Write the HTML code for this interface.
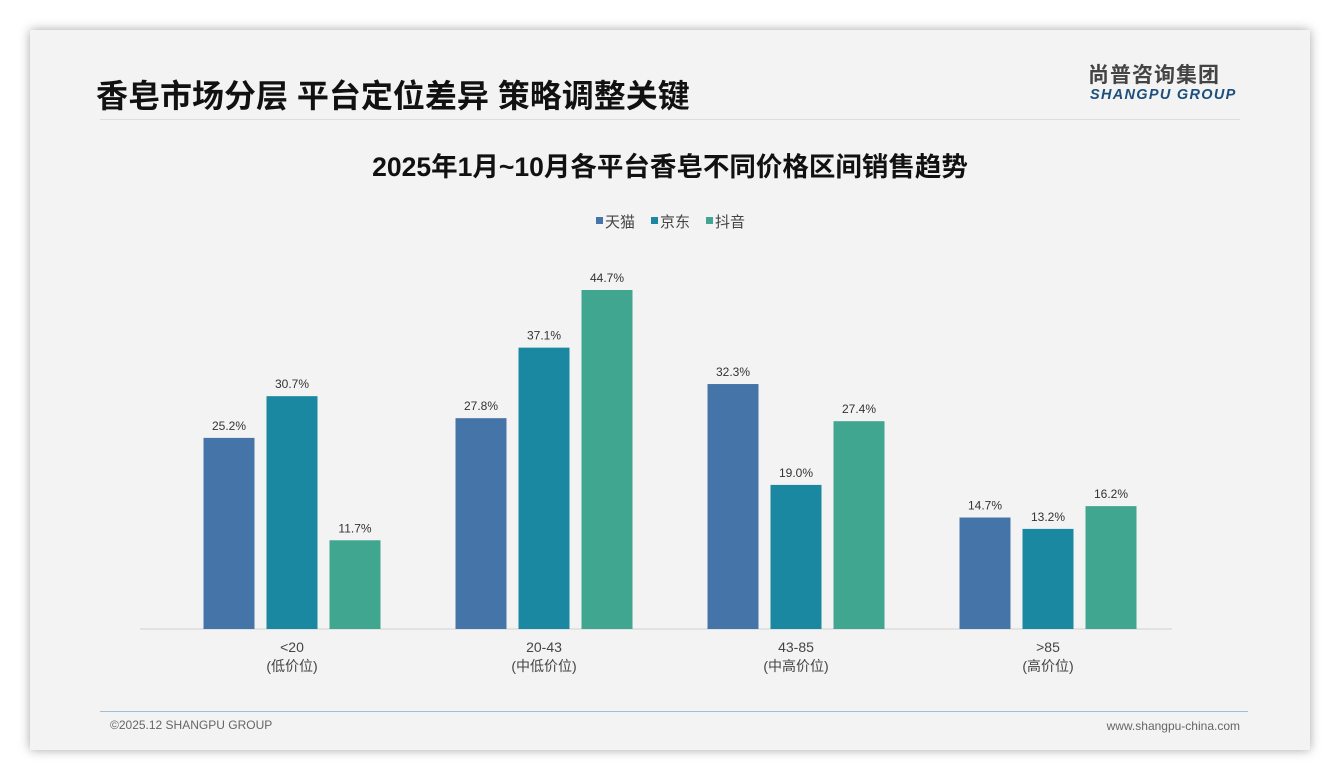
<!DOCTYPE html>
<html><head><meta charset="utf-8"><style>
body{margin:0;width:1340px;height:780px;background:#fff;position:relative;overflow:hidden;font-family:"Liberation Sans","Noto Sans CJK SC",sans-serif}
#card{position:absolute;left:30px;top:30px;width:1280px;height:720px;background:#f3f3f3;box-shadow:0 0 10px rgba(0,0,0,.35)}
.t{position:absolute;white-space:nowrap;line-height:1}
</style></head><body>
<div id="card">
<div class="t" style="left:66px;top:50px;font-size:32px;font-weight:bold;color:#111">香皂市场分层 平台定位差异 策略调整关键</div>
<div style="position:absolute;left:70px;top:89px;width:1140px;height:1px;background:#ddd"></div>
<div class="t" style="left:1058px;top:35px;font-size:21px;font-weight:bold;color:#444;letter-spacing:1px">尚普咨询集团</div>
<div class="t" style="left:1060px;top:58px;font-size:14.5px;font-weight:bold;font-style:italic;color:#1d4f7c;letter-spacing:1.3px">SHANGPU GROUP</div>
<div style="position:absolute;left:70px;top:681px;width:1148px;height:1px;background:#9fc0dc"></div>
<div class="t" style="left:80px;top:689px;font-size:12px;color:#666">©2025.12 SHANGPU GROUP</div>
<div class="t" style="left:1061px;top:690px;font-size:12px;color:#666;width:149px;text-align:right">www.shangpu-china.com</div>
</div>
<svg id="chart" width="1340" height="780" style="position:absolute;left:0;top:0">
<text x="670" y="176" text-anchor="middle" font-size="26.5" font-weight="bold" fill="#111">2025年1月~10月各平台香皂不同价格区间销售趋势</text>
<g id="legend"></g>
<line x1="140" y1="629" x2="1172" y2="629" stroke="#d0d0d0"/>
<g id="marks"></g>
</svg>
<script>
const categories=["<20","20-43","43-85",">85"];
const subLabels=["(低价位)","(中低价位)","(中高价位)","(高价位)"];
const seriesNames=["天猫","京东","抖音"];
const tmall=[25.2,27.8,32.3,14.7];
const jd=[30.7,37.1,19.0,13.2];
const douyin=[11.7,44.7,27.4,16.2];
const series=[tmall,jd,douyin];
const colors=["#4474a8","#1b88a1","#40a690"];
const NS="http://www.w3.org/2000/svg";
const base=629,scale=339/44.7;
const y=v=>base-v*scale;
const xc=i=>292+i*252;
const g=document.getElementById('marks');
function mk(tag,attrs,parent){const e=document.createElementNS(NS,tag);for(const k in attrs)e.setAttribute(k,attrs[k]);parent.appendChild(e);return e;}
series.forEach((s,si)=>{s.forEach((v,i)=>{
 const cx=xc(i)+(si-1)*63;
 const r=mk('rect',{x:cx-25.5,y:y(v),width:51,height:base-y(v),fill:colors[si]},g);
 
 
 const t=mk('text',{x:cx,y:y(v)-8,'text-anchor':'middle','font-size':12,fill:'#333'},g);
 t.textContent=v.toFixed(1)+'%';
 
 
});});
categories.forEach((c,i)=>{
 const t=mk('text',{x:xc(i),y:652,'text-anchor':'middle','font-size':14,fill:'#444'},g);
 t.textContent=c;
 
 
 const t2=mk('text',{x:xc(i),y:671,'text-anchor':'middle','font-size':14,fill:'#444'},g);
 t2.textContent=subLabels[i];
 
 
});
const lg=document.getElementById('legend');
const lx=[596,651,706];
seriesNames.forEach((n,i)=>{
 const r=mk('rect',{x:lx[i],y:217,width:7,height:7,fill:colors[i]},lg);
 
 
 const t=mk('text',{x:lx[i]+9,y:227,'font-size':15,fill:'#444'},lg);
 t.textContent=n;
 
 
});
</script>
</body></html>
